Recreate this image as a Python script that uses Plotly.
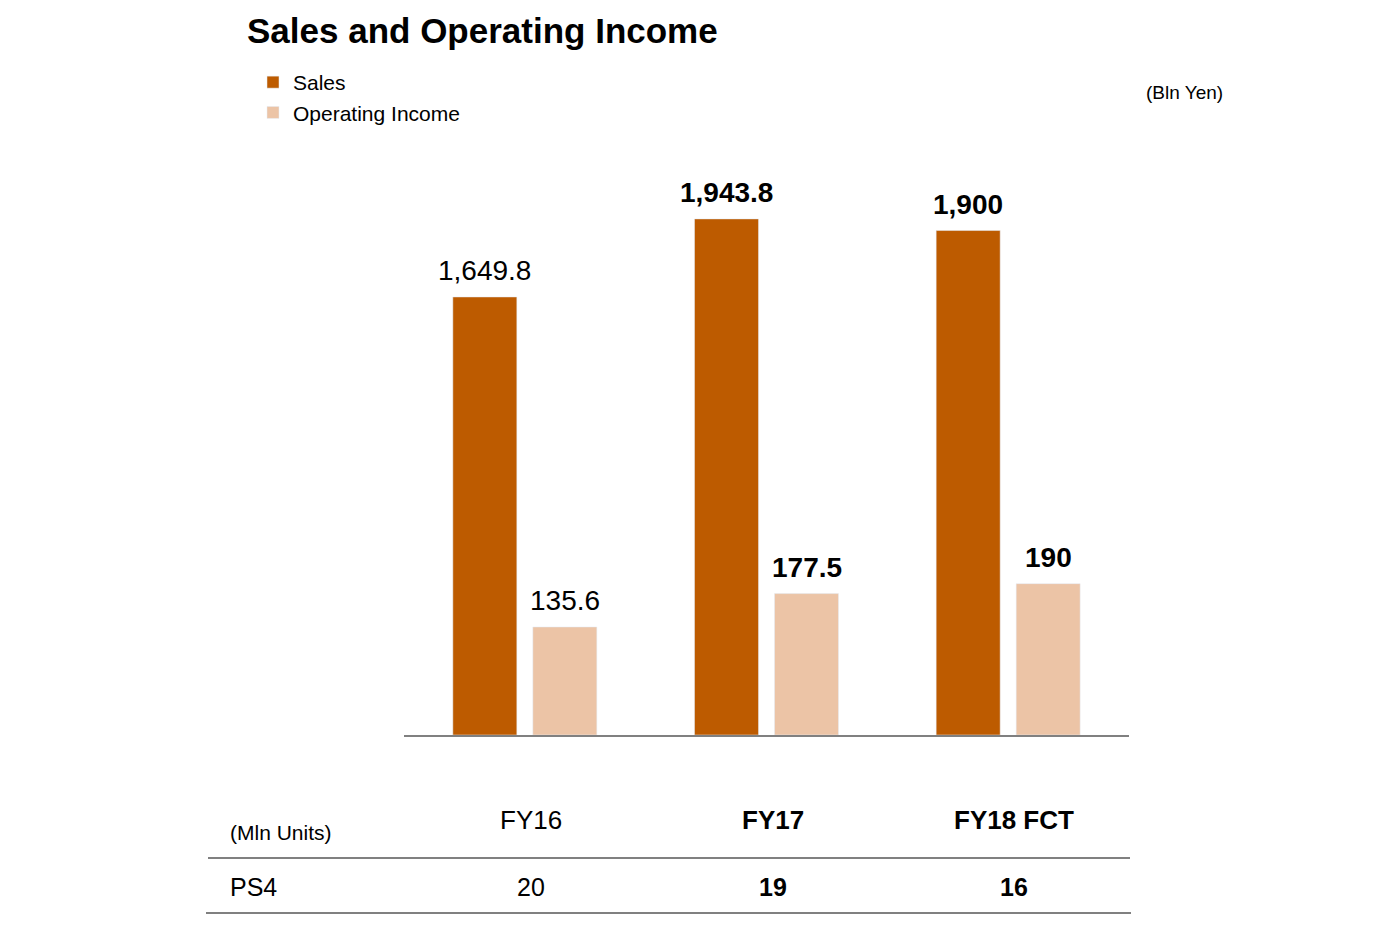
import plotly.graph_objects as go

# данные
years = ["FY16", "FY17", "FY18 FCT"]
sales = [1649.8, 1943.8, 1900]
op_income = [135.6, 177.5, 190]
sales_labels = ["1,649.8", "1,943.8", "1,900"]
op_labels = ["135.6", "177.5", "190"]
bold = [False, True, True]

table_head = "(Mln Units)"
table_row = "PS4"
ps4_units = [20, 19, 16]

SALES_COLOR = "#BD5B00"
OP_COLOR = "#ECC4A6"
FONT = "Liberation Sans, Arial, sans-serif"
W, H = 1400, 945
OFF = 8  # отступ body в html


def px(x):
    return (x - OFF) / W


def py(y):
    return 1 - (y - OFF) / H


def b(txt, flag):
    return f"<b>{txt}</b>" if flag else txt


fig = go.Figure()
fig.add_trace(go.Bar(x=years, y=sales, name="Sales", marker_color=SALES_COLOR,
                     offsetgroup="1", yaxis="y"))
fig.add_trace(go.Bar(x=years, y=op_income, name="Operating Income", marker_color=OP_COLOR,
                     offsetgroup="2", yaxis="y2"))

ann = []
# подписи над столбцами
for i, yr in enumerate(years):
    ann.append(dict(x=yr, y=sales[i], xref="x", yref="y", xshift=-40, yshift=26,
                    yanchor="middle", showarrow=False,
                    text=b(sales_labels[i], bold[i]), font=dict(size=28, color="black")))
    ann.append(dict(x=yr, y=op_income[i], xref="x", yref="y2", xshift=40, yshift=26,
                    yanchor="middle", showarrow=False,
                    text=b(op_labels[i], bold[i]), font=dict(size=28, color="black")))

# таблица внизу
for i, yr in enumerate(years):
    ann.append(dict(x=yr, y=py(820), xref="x", yref="paper", xshift=6,
                    yanchor="middle", showarrow=False,
                    text=b(yr, bold[i]), font=dict(size=26, color="black")))
    ann.append(dict(x=yr, y=py(887), xref="x", yref="paper", xshift=6,
                    yanchor="middle", showarrow=False,
                    text=b(str(ps4_units[i]), bold[i]), font=dict(size=25, color="black")))
ann.append(dict(x=px(228), y=py(832), xref="paper", yref="paper", xanchor="left",
                yanchor="middle", showarrow=False, text=table_head,
                font=dict(size=21, color="black")))
ann.append(dict(x=px(228), y=py(887), xref="paper", yref="paper", xanchor="left",
                yanchor="middle", showarrow=False, text=table_row,
                font=dict(size=25, color="black")))
ann.append(dict(x=px(1225), y=py(92), xref="paper", yref="paper", xanchor="right",
                yanchor="middle", showarrow=False, text="(Bln Yen)",
                font=dict(size=19, color="black")))

shapes = [
    dict(type="line", xref="paper", yref="paper", x0=px(208), x1=px(1130),
         y0=py(858), y1=py(858), line=dict(color="#808080", width=2)),
    dict(type="line", xref="paper", yref="paper", x0=px(206), x1=px(1131),
         y0=py(913), y1=py(913), line=dict(color="#808080", width=2)),
]

fig.update_layout(
    width=W, height=H,
    margin=dict(l=0, r=0, t=0, b=0),
    paper_bgcolor="white", plot_bgcolor="white",
    font=dict(family=FONT, color="black"),
    title=dict(text="<b>Sales and Operating Income</b>", x=px(247), xanchor="left",
               xref="paper", y=py(31), yanchor="middle", yref="paper",
               font=dict(size=35, color="black")),
    barmode="group", bargap=0.338, bargroupgap=0.2,
    showlegend=True,
    legend=dict(x=px(253), y=py(62), xanchor="left", yanchor="top",
                font=dict(size=21), bgcolor="rgba(0,0,0,0)", tracegroupgap=0),
    xaxis=dict(domain=[px(404), px(1129)], showticklabels=False, ticks="",
               showline=True, linecolor="#808080", linewidth=2, showgrid=False,
               zeroline=False),
    yaxis=dict(domain=[py(735), py(735) + 597.4 / H], range=[0, 2250], visible=False,
               showgrid=False, zeroline=False),
    yaxis2=dict(overlaying="y", range=[0, 750], visible=False, showgrid=False,
                zeroline=False),
    annotations=ann,
    shapes=shapes,
)

fig.write_html("out.html")
